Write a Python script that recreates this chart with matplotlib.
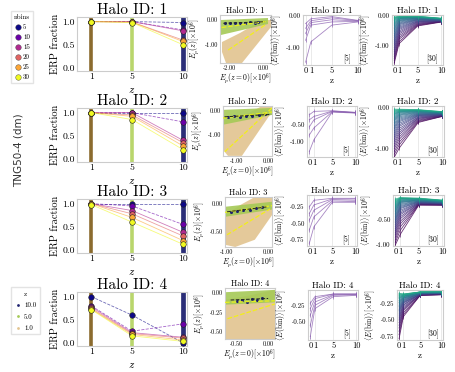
import numpy as np
import matplotlib
matplotlib.use('Agg')
import matplotlib.pyplot as plt
from matplotlib.ticker import FormatStrFormatter, FixedLocator
from matplotlib.lines import Line2D

plt.rcParams.update({
    'font.family': 'serif', 'font.serif': ['cmr10'], 'mathtext.fontset': 'cm',
    'axes.unicode_minus': False, 'axes.edgecolor': '#cccccc', 'axes.linewidth': 0.8,
    'xtick.major.size': 0, 'ytick.major.size': 0,
    'xtick.major.pad': 1.5, 'ytick.major.pad': 1.5,
})

# ---------------- data ----------------
halo_ids = [1, 2, 3, 4]
nbins = [5, 10, 15, 20, 25, 30]
z_snap = [1, 5, 10]
z_prof = [0, 1, 5, 10]

# ERP fraction, per halo: rows = nbins, columns = z (1, 5, 10)
erp_h1 = [[1.0, 1.0, 0.98], [1.0, 1.0, 0.82], [1.0, 1.0, 0.80],
          [1.0, 0.99, 0.60], [1.0, 0.99, 0.57], [1.0, 0.98, 0.50]]
erp_h2 = [[1.0, 1.0, 1.0], [1.0, 1.0, 0.80], [1.0, 1.0, 0.40],
          [1.0, 0.95, 0.35], [1.0, 0.92, 0.28], [1.0, 0.85, 0.20]]
erp_h3 = [[1.0, 1.0, 1.0], [1.0, 0.95, 0.55], [1.0, 0.85, 0.38],
          [1.0, 0.78, 0.30], [1.0, 0.70, 0.20], [0.98, 0.60, 0.12]]
erp_h4 = [[1.0, 0.60, 0.0], [0.80, 0.25, 0.41], [0.78, 0.22, 0.12],
          [0.75, 0.20, 0.10], [0.73, 0.18, 0.06], [0.72, 0.15, 0.03]]
erp_all = [erp_h1, erp_h2, erp_h3, erp_h4]

# <E(bin)> for 5 bins, per halo: rows = bins, columns = z (0, 1, 5, 10)
e5_h1 = [[-1.47, -0.83, -0.30, -0.20], [-0.78, -0.30, -0.20, -0.18], [-0.56, -0.22, -0.13, -0.17],
         [-0.40, -0.16, -0.07, -0.16], [-0.25, -0.10, -0.03, -0.15]]
e5_h2 = [[-1.29, -0.94, -0.12, -0.15], [-0.80, -0.59, -0.11, -0.14], [-0.56, -0.35, -0.10, -0.14],
         [-0.35, -0.25, -0.09, -0.13], [-0.20, -0.10, -0.08, -0.13]]
e5_h3 = [[-0.80, -0.55, -0.18, -0.18], [-0.60, -0.40, -0.16, -0.17], [-0.45, -0.30, -0.14, -0.15],
         [-0.35, -0.22, -0.13, -0.13], [-0.25, -0.15, -0.12, -0.12]]
e5_h4 = [[-0.72, -0.30, -0.12, -0.10], [-0.55, -0.25, -0.10, -0.09], [-0.40, -0.20, -0.09, -0.09],
         [-0.30, -0.15, -0.08, -0.08], [-0.22, -0.12, -0.08, -0.08]]
e5_all = [e5_h1, e5_h2, e5_h3, e5_h4]

# <E(bin)> for 30 bins, per halo and per z (0, 1, 5, 10)
e30_h1_z0 = [-1.60, -1.52, -1.45, -1.38, -1.30, -1.22, -1.15, -1.08, -1.00, -0.93, -0.86, -0.80, -0.73, -0.67, -0.61,
             -0.55, -0.49, -0.44, -0.39, -0.34, -0.30, -0.26, -0.22, -0.18, -0.15, -0.12, -0.10, -0.08, -0.06, -0.05]
e30_h1_z1 = [-0.95, -0.88, -0.80, -0.74, -0.68, -0.62, -0.57, -0.52, -0.47, -0.43, -0.39, -0.35, -0.31, -0.28, -0.25,
             -0.22, -0.19, -0.17, -0.15, -0.13, -0.11, -0.10, -0.09, -0.08, -0.07, -0.06, -0.05, -0.04, -0.03, -0.02]
e30_h1_z5 = [-0.35, -0.33, -0.31, -0.29, -0.27, -0.25, -0.23, -0.21, -0.20, -0.18, -0.17, -0.15, -0.14, -0.13, -0.12,
             -0.11, -0.10, -0.09, -0.08, -0.08, -0.07, -0.06, -0.06, -0.05, -0.05, -0.04, -0.04, -0.03, -0.03, -0.02]
e30_h1_z10 = [-0.22, -0.21, -0.21, -0.20, -0.20, -0.19, -0.19, -0.18, -0.18, -0.17, -0.17, -0.16, -0.16, -0.15, -0.15,
              -0.14, -0.14, -0.13, -0.13, -0.12, -0.12, -0.12, -0.11, -0.11, -0.11, -0.10, -0.10, -0.10, -0.09, -0.09]
e30_h2_z0 = [-1.22, -1.15, -1.08, -1.01, -0.95, -0.89, -0.83, -0.77, -0.72, -0.67, -0.62, -0.57, -0.52, -0.48, -0.44,
             -0.40, -0.36, -0.32, -0.29, -0.26, -0.23, -0.20, -0.17, -0.15, -0.13, -0.11, -0.09, -0.07, -0.05, -0.03]
e30_h2_z1 = [-1.00, -0.92, -0.85, -0.78, -0.72, -0.66, -0.61, -0.56, -0.51, -0.46, -0.42, -0.38, -0.34, -0.31, -0.28,
             -0.25, -0.22, -0.19, -0.17, -0.15, -0.13, -0.11, -0.10, -0.09, -0.08, -0.07, -0.06, -0.05, -0.04, -0.03]
e30_h2_z5 = [-0.36, -0.34, -0.32, -0.30, -0.28, -0.26, -0.25, -0.23, -0.22, -0.20, -0.19, -0.18, -0.17, -0.16, -0.15,
             -0.14, -0.13, -0.12, -0.11, -0.10, -0.09, -0.09, -0.08, -0.07, -0.07, -0.06, -0.06, -0.05, -0.05, -0.04]
e30_h2_z10 = [-0.21, -0.21, -0.20, -0.20, -0.19, -0.19, -0.18, -0.18, -0.17, -0.17, -0.16, -0.16, -0.15, -0.15, -0.14,
              -0.14, -0.13, -0.13, -0.13, -0.12, -0.12, -0.12, -0.11, -0.11, -0.11, -0.10, -0.10, -0.10, -0.09, -0.09]
e30_h3_z0 = [-1.00, -0.95, -0.90, -0.85, -0.80, -0.76, -0.72, -0.68, -0.64, -0.60, -0.56, -0.53, -0.50, -0.47, -0.44,
             -0.41, -0.38, -0.35, -0.33, -0.30, -0.28, -0.26, -0.24, -0.22, -0.20, -0.18, -0.16, -0.14, -0.12, -0.10]
e30_h3_z1 = [-0.80, -0.72, -0.65, -0.59, -0.54, -0.49, -0.45, -0.41, -0.38, -0.35, -0.32, -0.29, -0.27, -0.25, -0.23,
             -0.21, -0.19, -0.17, -0.16, -0.15, -0.14, -0.13, -0.12, -0.11, -0.10, -0.09, -0.09, -0.08, -0.08, -0.07]
e30_h3_z5 = [-0.22, -0.21, -0.21, -0.20, -0.20, -0.19, -0.19, -0.18, -0.18, -0.17, -0.17, -0.16, -0.16, -0.15, -0.15,
             -0.14, -0.14, -0.13, -0.13, -0.12, -0.12, -0.11, -0.11, -0.10, -0.10, -0.10, -0.09, -0.09, -0.09, -0.08]
e30_h3_z10 = [-0.22, -0.22, -0.21, -0.21, -0.20, -0.20, -0.20, -0.19, -0.19, -0.19, -0.18, -0.18, -0.18, -0.17, -0.17,
              -0.17, -0.16, -0.16, -0.16, -0.15, -0.15, -0.15, -0.14, -0.14, -0.14, -0.13, -0.13, -0.13, -0.12, -0.12]
e30_h4_z0 = [-0.78, -0.72, -0.67, -0.62, -0.58, -0.54, -0.50, -0.47, -0.44, -0.41, -0.38, -0.36, -0.34, -0.32, -0.30,
             -0.28, -0.26, -0.24, -0.23, -0.21, -0.20, -0.18, -0.17, -0.16, -0.15, -0.14, -0.13, -0.12, -0.11, -0.10]
e30_h4_z1 = [-0.45, -0.42, -0.39, -0.36, -0.34, -0.32, -0.30, -0.28, -0.27, -0.25, -0.24, -0.23, -0.22, -0.21, -0.20,
             -0.19, -0.18, -0.17, -0.17, -0.16, -0.15, -0.15, -0.14, -0.14, -0.13, -0.13, -0.12, -0.12, -0.11, -0.11]
e30_h4_z5 = [-0.13, -0.13, -0.13, -0.12, -0.12, -0.12, -0.12, -0.11, -0.11, -0.11, -0.11, -0.11, -0.10, -0.10, -0.10,
             -0.10, -0.10, -0.10, -0.09, -0.09, -0.09, -0.09, -0.09, -0.09, -0.08, -0.08, -0.08, -0.08, -0.08, -0.08]
e30_h4_z10 = [-0.12, -0.12, -0.12, -0.11, -0.11, -0.11, -0.11, -0.11, -0.10, -0.10, -0.10, -0.10, -0.10, -0.10, -0.09,
              -0.09, -0.09, -0.09, -0.09, -0.09, -0.09, -0.08, -0.08, -0.08, -0.08, -0.08, -0.08, -0.07, -0.07, -0.05]
e30_all = [[e30_h1_z0, e30_h1_z1, e30_h1_z5, e30_h1_z10],
           [e30_h2_z0, e30_h2_z1, e30_h2_z5, e30_h2_z10],
           [e30_h3_z0, e30_h3_z1, e30_h3_z5, e30_h3_z10],
           [e30_h4_z0, e30_h4_z1, e30_h4_z5, e30_h4_z10]]

# Ep(z) vs Ep(z=0): outlines of the dense point clouds, per halo
cloud_z1_x = [[-2.48, -2.24, -1.27, 0.48, 0.48, -0.06, -1.39, -2.48],
              [-1.45, -1.45, -1.29, -0.84, 0.13, 0.13, -0.19, -0.90],
              [-1.05, -1.05, -0.80, -0.32, 0.10, 0.10, -0.32, -0.68],
              [-0.69, -0.69, 0.11, 0.11, -0.29]]
cloud_z1_y = [[-1.28, -1.72, -1.72, -0.28, 0.0, 0.0, -0.52, -0.88],
              [-0.375, -1.625, -1.875, -1.875, -0.04, 0.2, 0.2, -0.29],
              [-0.20, -0.73, -0.77, -0.64, -0.20, 0.125, 0.125, -0.02],
              [-0.09, -0.59, -0.59, 0.04, -0.03]]
cloud_z5_x = [[-2.55, 0.30, 0.30, -2.55],
              [-1.45, 0.13, 0.13, -1.45],
              [-1.05, 0.10, 0.10, -1.05],
              [-0.69, 0.11, 0.11, -0.69]]
cloud_z5_y = [[0.0, 0.08, -0.16, -0.60],
              [0.04, 0.12, -0.17, -0.58],
              [-0.05, 0.04, -0.10, -0.23],
              [0.01, 0.04, -0.12, -0.15]]
pts_z10_x = [[-2.3, -2.0, -1.7, -1.4, -1.1, -0.8, -0.5, -0.3],
             [-1.3, -1.1, -0.9, -0.7, -0.5, -0.3, -0.1],
             [-0.9, -0.75, -0.6, -0.45, -0.3, -0.15],
             [-0.5, -0.42, -0.34, -0.26, -0.18, -0.1]]
pts_z10_y = [[-0.12, -0.11, -0.12, -0.10, -0.11, -0.09, -0.10, -0.08],
             [-0.25, -0.22, -0.24, -0.20, -0.22, -0.18, -0.15],
             [-0.14, -0.12, -0.11, -0.10, -0.08, -0.06],
             [-0.10, -0.09, -0.11, -0.08, -0.09, -0.07]]
fit_z1_x = [[-2.1, 0.12], [-1.39, 0.13], [-1.0, 0.05], [-0.65, 0.11]]
fit_z1_y = [[-1.2, -0.2], [-1.7, 0.12], [-0.55, -0.09], [-0.33, -0.14]]
fit_z5_x = [[-2.5, 0.3], [-1.45, 0.13], [-1.05, 0.1], [-0.69, 0.11]]
fit_z5_y = [[-0.3, -0.05], [-0.3, -0.05], [-0.15, -0.03], [-0.12, -0.10]]
fit_z10_x = [[-2.4, 0.1], [-1.4, 0.1], [-1.0, 0.0], [-0.6, 0.0]]
fit_z10_y = [[-0.13, -0.07], [-0.25, -0.15], [-0.14, -0.05], [-0.09, -0.07]]

# ---------------- layout (pixels) ----------------
W, H = 455, 372
fig = plt.figure(figsize=(4.55, 3.72), dpi=100)


def ax_px(x0, y0, x1, y1):
    return fig.add_axes([x0 / W, 1 - y1 / H, (x1 - x0) / W, (y1 - y0) / H])


col1_box = [(77, 17, 187, 71), (77, 108, 187, 162), (77, 199, 187, 253), (77, 292, 187, 346)]
col3_box = [(220, 15, 271, 63), (223, 106, 272, 156), (225, 197, 272, 247), (225, 288, 275, 339)]
col4_box = [(303, 15, 360, 65), (307, 106, 357, 157), (307, 195, 357, 246), (308, 290, 358, 340)]
col5_box = [(392, 15, 443, 65), (392, 106, 444, 157), (393, 195, 444, 246), (397, 290, 443, 340)]

col3_xlim = [(-2.6, 0.48), (-1.45, 0.13), (-1.05, 0.1), (-0.69, 0.11)]
col3_ylim = [(-1.72, 0.2), (-1.88, 0.2), (-0.77, 0.125), (-0.59, 0.064)]
col3_xt = [[-2, 0], [-1, 0], [-1, 0], [-0.5, 0]]
col3_yt = [[-1, 0], [-1, 0], [-0.5, 0], [-0.5, -0.25, 0]]
col4_ylim = [(-1.56, 0.02), (-1.45, 0.06), (-0.84, -0.07), (-0.77, -0.02)]
col4_yt = [[-1, 0], [-1, -0.5], [-0.75, -0.5, -0.25], [-0.5, -0.25]]
col5_ylim = [(-1.67, 0.02), (-1.22, 0.05), (-1.02, -0.02), (-0.8, -0.05)]
col5_yt = [[-1, 0], [-1, 0], [-1, -0.5], [-0.75, -0.5, -0.25]]

nb_colors = plt.cm.plasma(np.linspace(0, 1, len(nbins)))
bar_colors = {1: '#8b6b2e', 5: '#b9d66c', 10: '#2b2e78'}
z_colors = {10: '#1f2370', 5: '#a5c956', 1: '#e2c48f'}
grid_c = '#e6e6e6'
ylab_E = r'$\langle E(\mathrm{bin})\rangle[\times 10^6]$'

for r, hid in enumerate(halo_ids):
    # ---- column 1: ERP fraction
    ax = ax_px(*col1_box[r])
    for zz in z_snap:
        ax.axvline(zz, color=bar_colors[zz], lw=2.6 if zz != 10 else 3.4, zorder=1)
    for k, nb in enumerate(nbins):
        vals = erp_all[r][k]
        ax.plot(z_snap, vals, color=nb_colors[k], lw=0.6, alpha=0.6,
                ls='--' if k < 2 else '-', zorder=2)
        ax.scatter(z_snap, vals, s=16, color=nb_colors[k], edgecolor='#222222',
                   linewidth=0.4, zorder=3)
    ax.set_xlim(-0.4, 10.4)
    ax.set_ylim(-0.07, 1.1)
    ax.set_xticks(z_snap)
    ax.set_yticks([0, 0.5, 1.0])
    ax.yaxis.set_major_formatter(FormatStrFormatter('%.1f'))
    ax.tick_params(labelsize=7)
    ax.set_title(f'Halo ID: {hid}', fontsize=11, pad=2)
    ax.set_ylabel('ERP fraction', fontsize=7.5, labelpad=2)
    ax.set_xlabel('$z$', fontsize=8, labelpad=3)

    # ---- column 3: Ep(z) vs Ep(z=0)
    ax = ax_px(*col3_box[r])
    ax.fill(cloud_z1_x[r], cloud_z1_y[r], color=z_colors[1], alpha=0.9, lw=0, zorder=1)
    ax.fill(cloud_z5_x[r], cloud_z5_y[r], color=z_colors[5], alpha=0.9, lw=0, zorder=2)
    ax.scatter(pts_z10_x[r], pts_z10_y[r], s=1.5, color=z_colors[10], zorder=3)
    ax.plot(fit_z1_x[r], fit_z1_y[r], color='#f2ef1a', ls='--', lw=0.9, zorder=4)
    ax.plot(fit_z5_x[r], fit_z5_y[r], color='#e9f01c', ls='--', lw=0.9, zorder=4)
    ax.plot(fit_z10_x[r], fit_z10_y[r], color='#222222', ls='--', lw=0.7, zorder=5)
    ax.set_xlim(*col3_xlim[r])
    ax.set_ylim(*col3_ylim[r])
    ax.xaxis.set_major_locator(FixedLocator(col3_xt[r]))
    ax.yaxis.set_major_locator(FixedLocator(col3_yt[r]))
    ax.xaxis.set_major_formatter(FormatStrFormatter('%.2f'))
    ax.yaxis.set_major_formatter(FormatStrFormatter('%.2f'))
    ax.tick_params(labelsize=4.5)
    ax.set_title(f'Halo ID: {hid}', fontsize=6, pad=1.5)
    ax.set_ylabel(r'$E_p(z)[\times 10^6]$', fontsize=5.5, labelpad=1)
    ax.set_xlabel(r'$E_p(z=0)[\times 10^6]$', fontsize=5.5, labelpad=1)

    # ---- column 4: 5 bins
    ax = ax_px(*col4_box[r])
    ax.grid(axis='x', color=grid_c, lw=0.6)
    ax.set_axisbelow(True)
    for b in e5_all[r]:
        ax.plot(z_prof, b, color='#8a5fb0', lw=0.6, alpha=0.75, marker='|', ms=3, mew=0.6)
    ax.set_xlim(-0.5, 10.4)
    ax.set_ylim(*col4_ylim[r])
    ax.set_xticks(z_prof)
    ax.yaxis.set_major_locator(FixedLocator(col4_yt[r]))
    ax.yaxis.set_major_formatter(FormatStrFormatter('%.2f'))
    ax.tick_params(axis='y', labelsize=5)
    ax.tick_params(axis='x', labelsize=6)
    ax.set_title(f'Halo ID: {hid}', fontsize=6.5, pad=1.5)
    ax.set_xlabel('z', fontsize=6.5, labelpad=1)
    ax.set_ylabel(ylab_E, fontsize=5.5, labelpad=1)
    ax.text(0.78, 0.12, '[5]', transform=ax.transAxes, fontsize=5.5, ha='center', va='center')

    # ---- column 5: 30 bins
    ax = ax_px(*col5_box[r])
    ax.grid(axis='x', color=grid_c, lw=0.6)
    ax.set_axisbelow(True)
    cols30 = plt.cm.viridis(np.linspace(0.0, 0.6, 30))
    for i in range(30):
        vals = [e30_all[r][j][i] for j in range(4)]
        ax.plot(z_prof, vals, color=cols30[i], lw=0.6, alpha=0.8, marker='|', ms=3, mew=0.5)
    ax.set_xlim(-0.5, 10.4)
    ax.set_ylim(*col5_ylim[r])
    ax.set_xticks(z_prof)
    ax.yaxis.set_major_locator(FixedLocator(col5_yt[r]))
    ax.yaxis.set_major_formatter(FormatStrFormatter('%.2f'))
    ax.tick_params(axis='y', labelsize=5)
    ax.tick_params(axis='x', labelsize=6)
    ax.set_title(f'Halo ID: {hid}', fontsize=6.5, pad=1.5)
    ax.set_xlabel('z', fontsize=6.5, labelpad=1)
    ax.set_ylabel(ylab_E, fontsize=5.5, labelpad=1)
    ax.text(0.78, 0.12, '[30]', transform=ax.transAxes, fontsize=5.5, ha='center', va='center')

# ---- legends & row label
h_nb = [Line2D([], [], ls='', marker='o', ms=4, mfc=nb_colors[k], mec='#444444', mew=0.3,
               label=str(nb)) for k, nb in enumerate(nbins)]
fig.legend(handles=h_nb, title='nbins', loc='upper left', bbox_to_anchor=(8 / W, 1 - 8 / H),
           fontsize=5, title_fontsize=5, frameon=True, edgecolor='#dddddd', handletextpad=0.2,
           borderpad=0.4, labelspacing=0.6, handlelength=1.0, fancybox=False)
h_z = [Line2D([], [], ls='', marker='o', ms=2, mfc=z_colors[zz], mec='none', label=f'{zz:.1f}')
       for zz in [10, 5, 1]]
fig.legend(handles=h_z, title='z', loc='upper left', bbox_to_anchor=(8 / W, 1 - 284 / H),
           fontsize=5, title_fontsize=5, frameon=True, edgecolor='#dddddd', handletextpad=0.3,
           borderpad=0.5, labelspacing=0.8, handlelength=1.0, fancybox=False)
fig.text(19 / W, 1 - 150 / H, 'TNG50-4 (dm)', rotation=90, ha='center', va='center',
         fontsize=7.5, family='DejaVu Sans', color='#333333')

fig.savefig('out.png', dpi=100)
